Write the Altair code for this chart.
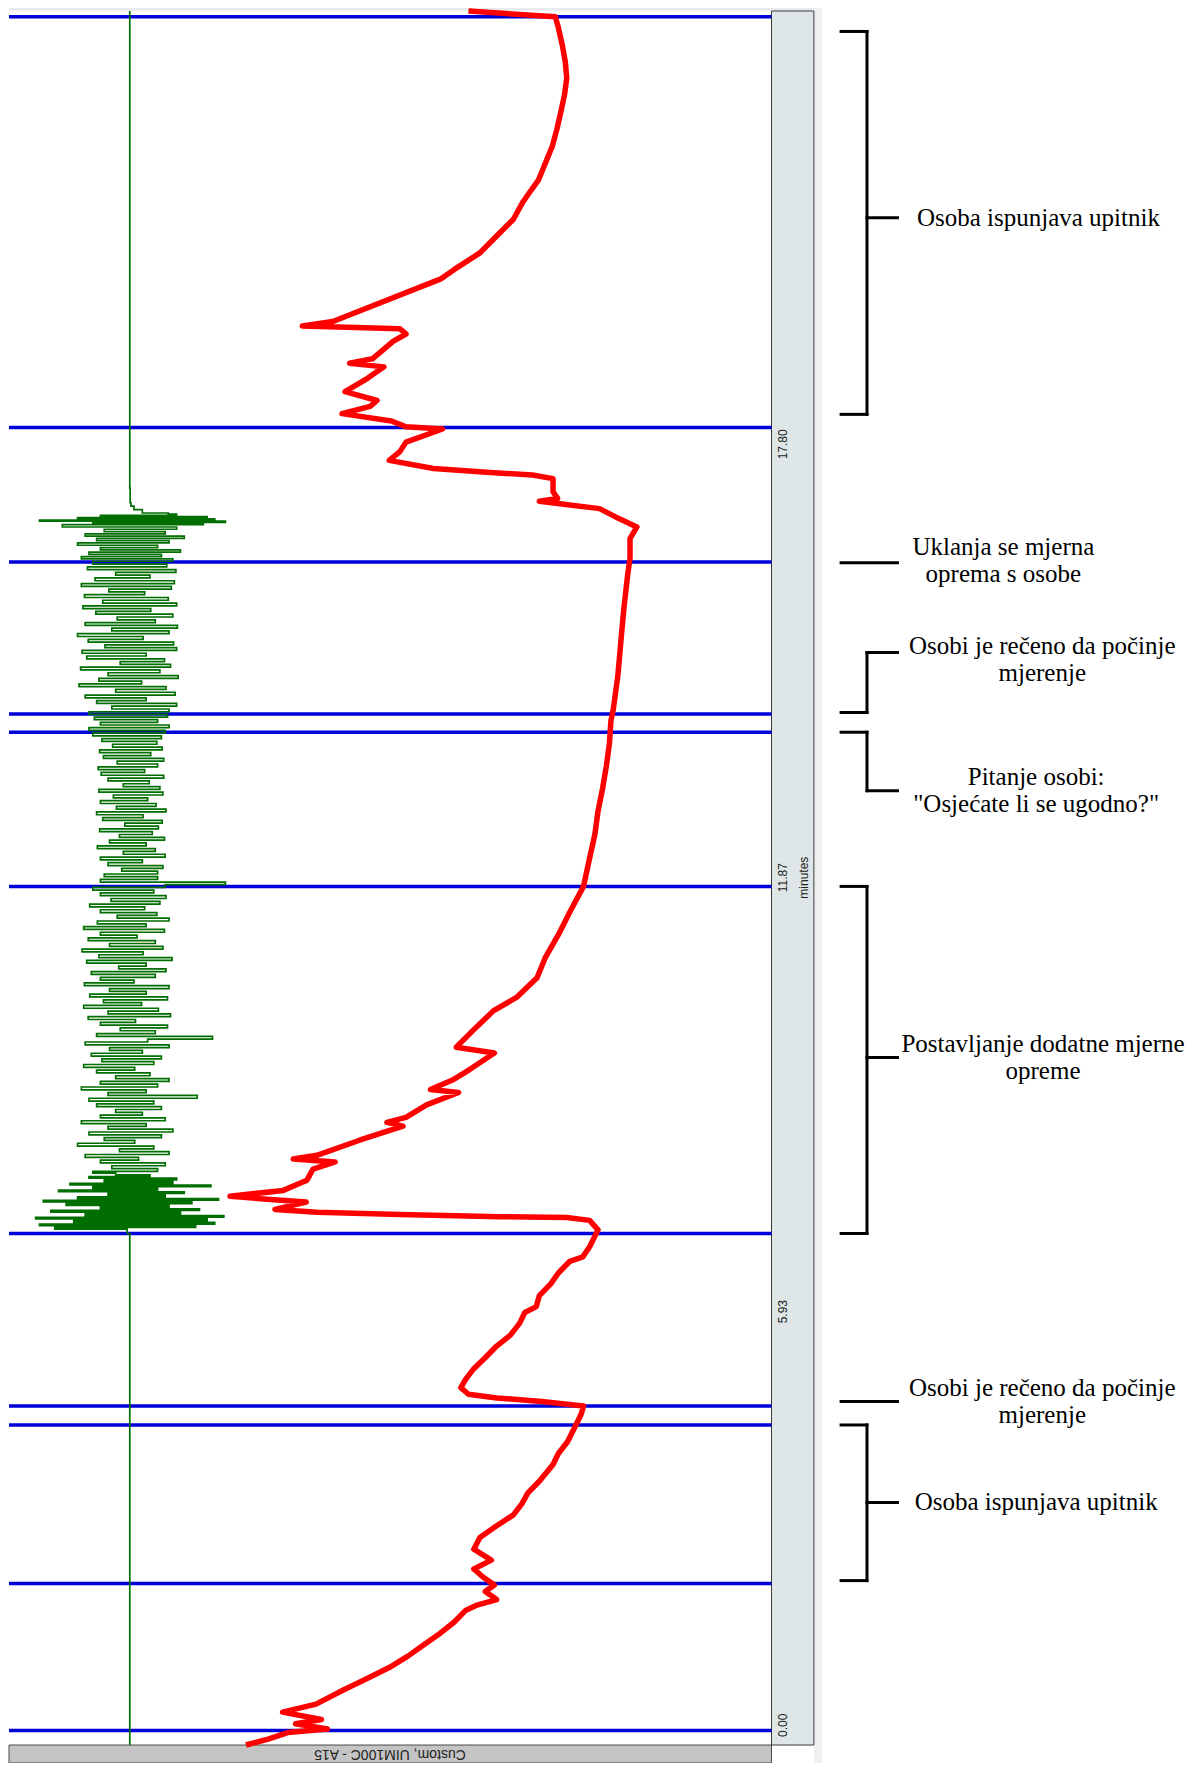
import altair as alt
import numpy as np
import pandas as pd

# ---------------- data ----------------
# red trace: time (minutes) and level (% of trace panel width)
red_minutes = [0.00, 0.08, 0.17, 0.22, 0.29, 0.35, 0.45, 0.56, 0.76, 0.91, 1.06, 1.22, 1.37, 1.53, 1.68,
               1.84, 1.91, 1.99, 2.10, 2.19, 2.30, 2.41, 2.53, 2.68, 2.84, 3.00, 3.15, 3.30, 3.45, 3.61,
               3.84, 3.99, 4.15, 4.38, 4.53, 4.64, 4.70, 4.75, 4.80, 4.89, 5.00, 5.15, 5.30, 5.46, 5.61,
               5.77, 5.92, 6.00, 6.15, 6.31, 6.46, 6.62, 6.68, 6.82, 7.05, 7.18, 7.22, 7.23, 7.26, 7.29,
               7.33, 7.43, 7.47, 7.51, 7.59, 7.73, 7.88, 7.98, 8.02, 8.07, 8.28, 8.47, 8.52, 8.59, 8.76,
               8.93, 8.97, 9.10, 9.24, 9.47, 9.55, 9.78, 10.05, 10.23, 10.50, 10.78, 11.09, 11.40, 11.75,
               12.09, 12.47, 12.78, 13.09, 13.40, 13.71, 14.02, 14.17, 14.63, 15.10, 15.56, 16.02, 16.24,
               16.51, 16.67, 16.78, 16.92, 16.99, 17.02, 17.06, 17.15, 17.33, 17.38, 17.42, 17.47, 17.58,
               17.70, 17.83, 18.01, 18.04, 18.12, 18.22, 18.32, 18.40, 18.52, 18.70, 18.86, 18.91, 18.97,
               19.21, 19.31, 19.38, 19.42, 19.48, 20.06, 20.19, 20.42, 20.65, 20.88, 21.11, 21.26, 21.42,
               21.65, 21.88, 22.11, 22.34, 22.58, 22.81, 23.04, 23.27, 23.50, 23.65, 23.73]
red_level = [31.1, 34.0, 36.6, 41.8, 37.6, 41.0, 35.9, 40.3, 44.0, 47.0, 49.9, 52.4, 54.4, 56.6, 58.4,
             59.9, 61.3, 64.0, 62.5, 63.7, 62.2, 61.0, 63.3, 61.0, 61.8, 64.0, 66.2, 67.3, 68.1, 69.6,
             71.4, 72.1, 73.3, 74.4, 75.1, 75.4, 69.9, 64.0, 60.3, 59.3, 59.9, 61.0, 62.5, 64.0, 65.8,
             67.0, 67.7, 69.2, 69.6, 71.1, 72.1, 73.6, 75.3, 76.2, 77.3, 76.2, 73.2, 64.4, 51.3, 40.4,
             34.9, 39.0, 33.8, 29.0, 36.0, 39.1, 39.9, 42.8, 37.3, 40.4, 46.1, 51.7, 49.6, 52.1, 54.8,
             59.0, 55.3, 58.2, 60.4, 63.7, 58.7, 60.9, 63.6, 66.6, 69.3, 70.4, 72.1, 73.6, 75.4,
             76.1, 76.9, 77.3, 77.9, 78.4, 78.8, 79.0, 79.3, 79.9, 80.3, 80.7, 81.2, 81.5,
             81.5, 82.4, 80.1, 77.5, 72.0, 69.6, 72.0, 71.4, 71.4, 68.7, 62.2, 55.7, 49.9,
             51.3, 52.1, 56.9, 52.1, 50.2, 43.7, 47.4, 48.3, 44.1, 47.0, 49.2, 44.7, 47.7,
             50.4, 52.1, 51.3, 38.5, 42.5, 56.6, 58.4, 61.8, 64.0, 66.2, 67.4, 68.4, 69.5,
             70.4, 71.3, 71.9, 72.4, 72.9, 73.2, 73.0, 72.6, 72.1, 71.7, 60.3]

# green trace: flat baseline, and noisy sections (time span + values read, sampled evenly)
green_baseline = 15.85
green_seg_start = [7.06, 7.85, 11.70, 11.92, 13.85, 14.14, 16.20, 16.70, 16.86]
green_seg_end = [7.85, 11.70, 11.92, 13.85, 14.14, 16.20, 16.70, 16.86, 17.05]
green_seg_values = [
    [15.5, 6.0, 24.5, 4.0, 27.0, 8.5, 26.0, 3.5, 28.2, 10.0, 22.5, 5.5, 25.0, 12.0, 21.0, 7.5, 24.0,
     4.5, 27.5, 9.0, 20.5, 13.0, 23.0, 6.5, 19.5, 11.0, 26.5, 8.0, 21.5, 12.5, 22.0, 10.5, 18.5, 14.0],
    [11.0, 19.5, 13.5, 20.5, 12.0, 17.0, 10.0, 21.0, 14.5, 19.0,
     9.0, 16.5, 12.5, 20.0, 10.5, 21.5, 13.0, 18.0, 9.5, 20.5,
     12.0, 17.5, 14.0, 20.0, 11.5, 19.0, 10.5, 24.7, 13.0, 18.0,
     9.5, 19.5, 12.0, 21.0, 14.0, 18.5, 11.5, 16.5, 9.8, 19.0,
     12.2, 20.0, 10.8, 17.5, 13.2, 21.0, 10.0, 18.2, 26.7, 11.5,
     19.2, 14.6, 20.8, 12.0, 16.6, 10.4, 21.2, 13.0, 19.6, 9.8,
     17.4, 12.4, 20.8, 10.6, 18.0, 13.2, 21.0, 9.9, 16.4, 12.0,
     19.2, 10.8, 20.6, 14.4, 18.0, 10.2, 21.4, 11.8, 17.6, 9.6,
     20.2, 13.2, 19.2, 10.4, 16.8, 12.0, 20.4, 9.8, 18.0, 11.6,
     21.0, 14.2, 19.4, 12.0, 17.8, 10.6, 19.8, 13.4, 20.6, 12.0],
    [19.0, 11.0, 20.5, 28.4, 12.0, 19.5],
    [12.5, 19.5, 14.8, 20.2, 13.0, 17.5, 12.0, 20.5, 15.0, 19.2,
     11.6, 18.0, 13.2, 20.4, 14.5, 18.8, 11.9, 19.6, 15.2, 20.1,
     12.3, 17.6, 11.5, 20.6, 14.1, 19.3, 12.0, 18.2, 13.7, 20.2,
     11.8, 19.8, 15.0, 18.4, 13.0, 20.3, 12.1, 17.8, 11.7, 19.5,
     14.2, 20.3, 12.4, 18.6, 11.9, 20.1, 13.6, 19.4, 12.2, 20.0],
    [11.0, 20.5, 10.5, 21.0, 12.0, 19.5, 11.2, 20.8],
    [10.5, 21.0, 13.5, 22.0, 11.5, 18.0, 10.0, 21.8, 14.0, 20.6,
     9.2, 17.4, 11.8, 22.2, 13.0, 19.8, 9.4, 21.2, 14.6, 20.4,
     10.2, 18.0, 9.6, 22.0, 12.6, 21.6, 10.4, 17.6, 9.0, 21.0,
     13.5, 22.1, 10.0, 19.2, 14.2, 21.5, 11.4, 18.6, 9.7, 22.0,
     12.3, 20.9, 9.9, 17.8, 13.1, 21.3, 9.5, 21.7, 11.3, 18.5,
     14.0, 21.9, 10.3, 20.7],
    [11.0, 21.5, 9.5, 20.0, 10.5, 22.5, 12.0, 19.5, 9.0, 21.0, 11.5, 23.0, 10.0, 20.5, 12.5, 22.0],
    [7.0, 25.5, 11.0, 28.4, 4.0, 27.0, 9.0, 26.0, 12.0, 22.0],
    [20.9, 17.5, 16.4, 16.0],
]

# blue event markers (minutes)
event_minutes = [23.65, 18.03, 16.19, 14.11, 13.86, 11.75, 7.00, 4.64, 4.38, 2.21, 0.20]

# time axis
tick_minutes = [0.00, 5.93, 11.87, 17.80]
tick_labels = ["0.00", "5.93", "11.87", "17.80"]
axis_title = "minutes"
channel_label = "Custom, UIM100C - A15"
t_end = 23.73

# annotations
ann_text = [
    "Osoba ispunjava upitnik",
    "Uklanja se mjerna\noprema s osobe",
    "Osobi je rečeno da počinje\nmjerenje",
    "Pitanje osobi:\n\"Osjećate li se ugodno?\"",
    "Postavljanje dodatne mjerne\nopreme",
    "Osobi je rečeno da počinje\nmjerenje",
    "Osoba ispunjava upitnik",
]
ann_kind = ["bracket", "line", "step", "step", "bracket", "line", "bracket"]
ann_t1 = [23.45, 16.18, 14.13, 13.86, 11.75, 4.70, 4.38]
ann_t2 = [18.21, 16.18, 14.95, 13.06, 7.00, 4.70, 2.25]
ann_tmid = [20.90, 16.18, 14.95, 13.06, 9.41, 4.70, 3.32]
ann_text_t = [20.90, 16.21, 14.86, 13.06, 9.41, 4.70, 3.32]
ann_text_x = [135.1, 130.5, 135.6, 134.8, 135.7, 135.6, 134.8]

# ---------------- layout (scale units) ----------------
PANEL_R = 100.07
BAR_R = 105.63
STRIP_R = 106.7
X_ARM, X_VERT, X_TICK = 109.2, 112.6, 116.6
LABEL_X, TITLE_X, CHANNEL_X = 101.6, 104.3, 50.0
Y_MIN, Y_MAX = -0.246, 23.771
LINE_H = 27

X = alt.Scale(domain=[-0.131, 154.86], nice=False, zero=False)
Y = alt.Scale(domain=[Y_MIN, Y_MAX], nice=False, zero=False)


def xq(f):
    return alt.X(f, type="quantitative", scale=X, axis=None)


def yq(f):
    return alt.Y(f, type="quantitative", scale=Y, axis=None)


# ---------------- tables ----------------
red_df = pd.DataFrame({"t": red_minutes, "v": red_level})

g_t = [0.0, 7.00]
g_v = [green_baseline, green_baseline]
for t0, t1, vals in zip(green_seg_start, green_seg_end, green_seg_values):
    ts = np.linspace(t0, t1, len(vals), endpoint=False)
    g_t.extend(ts.tolist())
    g_v.extend(vals)
g_t.extend([17.2, t_end])
g_v.extend([green_baseline + 0.05, green_baseline])
green_df = pd.DataFrame({"t": g_t, "v": g_v})

blue_df = pd.DataFrame({"t": event_minutes, "x0": 0.0, "x1": PANEL_R})

segs = []
for k, a, b, m in zip(ann_kind, ann_t1, ann_t2, ann_tmid):
    if k == "bracket":
        segs += [(X_ARM, a, X_VERT, a), (X_ARM, b, X_VERT, b), (X_VERT, a, X_VERT, b), (X_VERT, m, X_TICK, m)]
    elif k == "step":
        segs += [(X_ARM, a, X_VERT, a), (X_VERT, a, X_VERT, b), (X_VERT, b, X_TICK, b)]
    else:
        segs += [(X_ARM, a, X_TICK, a)]
seg_df = pd.DataFrame(segs, columns=["x0", "t0", "x1", "t1"])

ann_df = pd.DataFrame({"t": ann_text_t, "x": ann_text_x, "label": ann_text})
ann_one = ann_df[~ann_df["label"].str.contains("\n")]
ann_two = ann_df[ann_df["label"].str.contains("\n")]

tick_df = pd.DataFrame({"t": tick_minutes, "label": tick_labels, "x": LABEL_X})
tick_df_main = tick_df[tick_df["t"] > 0]
tick_df_first = tick_df[tick_df["t"] <= 0]
title_df = pd.DataFrame({"t": [tick_minutes[2]], "label": [axis_title], "x": [TITLE_X]})
channel_df = pd.DataFrame({"t": [Y_MIN / 2], "label": [channel_label], "x": [CHANNEL_X]})

top_df = pd.DataFrame({"x0": [0.0], "x1": [STRIP_R], "t0": [t_end], "t1": [Y_MAX]})
strip_df = pd.DataFrame({"x0": [BAR_R], "x1": [STRIP_R], "t0": [Y_MIN], "t1": [Y_MAX]})
bar_df = pd.DataFrame({"x0": [PANEL_R], "x1": [BAR_R], "t0": [0.0], "t1": [t_end]})
bottom_df = pd.DataFrame({"x0": [0.0], "x1": [PANEL_R], "t0": [Y_MIN], "t1": [0.0]})


# ---------------- layers ----------------
def rect(df, **kw):
    return alt.Chart(df).mark_rect(**kw).encode(
        x=xq("x0"), x2=alt.X2("x1"), y=yq("t0"), y2=alt.Y2("t1"))


top_band = rect(top_df, color="#e8ecee")
strip = rect(strip_df, color="#efefef")
axis_bar = rect(bar_df, color="#dfe6e8", stroke="#3a3a3a", strokeWidth=1)
bottom_bar = rect(bottom_df, color="#c4c4c4", stroke="#4a4a4a", strokeWidth=1)

blue = alt.Chart(blue_df).mark_rule(color="#0000d8", strokeWidth=3.5).encode(
    x=xq("x0"), x2=alt.X2("x1"), y=yq("t"))

green = alt.Chart(green_df).mark_line(color="#006e00", strokeWidth=1.7, interpolate="step-after").encode(
    x=xq("v"), y=yq("t"), order=alt.Order("t:Q"))

red = alt.Chart(red_df).mark_line(color="#ff0000", strokeWidth=5.5, strokeJoin="round").encode(
    x=xq("v"), y=yq("t"), order=alt.Order("t:Q"))

txt_style = dict(font="Liberation Sans", fontSize=12, color="#222222", baseline="middle")
tick_text = alt.Chart(tick_df_main).mark_text(angle=270, align="center", **txt_style).encode(
    x=xq("x"), y=yq("t"), text="label:N")
tick_text0 = alt.Chart(tick_df_first).mark_text(angle=270, align="left", dx=8, **txt_style).encode(
    x=xq("x"), y=yq("t"), text="label:N")
minutes_text = alt.Chart(title_df).mark_text(angle=270, align="center", **txt_style).encode(
    x=xq("x"), y=yq("t"), text="label:N")
channel_text = alt.Chart(channel_df).mark_text(
    angle=180, align="center", baseline="middle", font="Liberation Sans", fontSize=14, color="#222222").encode(
    x=xq("x"), y=yq("t"), text="label:N")

brackets = alt.Chart(seg_df).mark_rule(color="black", strokeWidth=3, strokeCap="square").encode(
    x=xq("x0"), x2=alt.X2("x1"), y=yq("t0"), y2=alt.Y2("t1"))

ann_style = dict(align="center", baseline="middle", font="Liberation Serif", fontSize=25,
                 lineHeight=LINE_H, lineBreak="\n", color="black")
ann1 = alt.Chart(ann_one).mark_text(**ann_style).encode(x=xq("x"), y=yq("t"), text="label:N")
ann2 = alt.Chart(ann_two).mark_text(dy=-LINE_H / 2, **ann_style).encode(x=xq("x"), y=yq("t"), text="label:N")

chart = alt.layer(
    top_band, strip, axis_bar, bottom_bar, blue, green, red,
    tick_text, tick_text0, minutes_text, channel_text, brackets, ann1, ann2
).properties(
    width=1181, height=1755, padding=0,
    autosize=alt.AutoSizeParams(type="none"), background="white"
).configure_view(stroke=None)

chart.save("out.html", embed_options={"renderer": "svg", "actions": False})
